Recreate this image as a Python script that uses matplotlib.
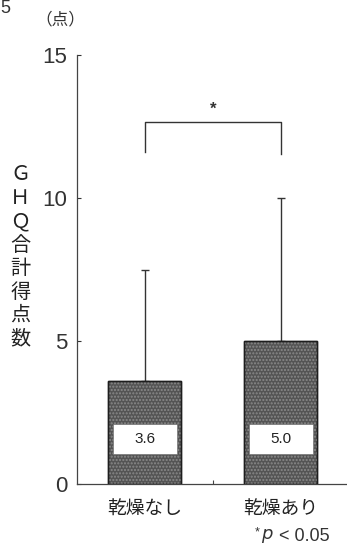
import matplotlib
matplotlib.use("Agg")
import matplotlib.pyplot as plt

plt.rcParams['font.family'] = ['Liberation Sans', 'Noto Sans CJK JP', 'DejaVu Sans']

categories = ['乾燥なし', '乾燥あり']
means = [3.6, 5.0]
sd_upper = [3.9, 5.0]
mean_labels = ['3.6', '5.0']
yticks = [0, 5, 10, 15]
ylabel = 'ＧＨＱ合計得点数'
unit = '（点）'

fig = plt.figure(figsize=(3.47, 5.5), dpi=100)
ax = fig.add_axes([0.222, 0.12, 0.775, 0.78])

x = list(range(len(categories)))
bar_w = 0.54

# bars: solid fill, then a speckle overlay
ax.bar(x, means, width=bar_w, color='#545454', edgecolor='#1e1e1e', linewidth=1.0, zorder=2)
ax.bar(x, means, width=bar_w, color='none', edgecolor='#8a8a8a', hatch='.....', linewidth=0, zorder=2.5)
ax.bar(x, means, width=bar_w, color='none', edgecolor='#1e1e1e', linewidth=1.0, zorder=2.6)

# upper-only error bars
ax.errorbar(x, means, yerr=[[0] * len(x), sd_upper], fmt='none', ecolor='#333333',
            elinewidth=1.0, capsize=3, capthick=1.0, zorder=1.5)

# value boxes inside bars
for xi, lab in zip(x, mean_labels):
    ax.add_patch(plt.Rectangle((xi - 0.235, 1.05), 0.47, 1.05, facecolor='white',
                               edgecolor='#666666', linewidth=0.4, zorder=3))
    ax.text(xi, 1.58, lab, ha='center', va='center', fontsize=11, color='#222222', zorder=4)

# significance bracket
ax.plot([0, 0, 1, 1], [11.6, 12.65, 12.65, 11.55], color='#333333', lw=1.0,
        clip_on=False, zorder=3)
ax.text(0.5, 13.1, '*', ha='center', va='center', fontsize=12, fontweight='bold',
        color='#333333')

ax.set_xlim(-0.498, 1.48)
ax.set_ylim(0, 15)
ax.set_yticks(yticks)
ax.set_yticklabels([str(t) for t in yticks], fontsize=16, color='#333333')
ax.tick_params(axis='y', direction='in', length=3, width=0.8, pad=7, colors='#333333')
ax.set_xticks(x)
ax.set_xticklabels(categories, fontsize=13.5, color='#222222')
ax.tick_params(axis='x', length=0, pad=13)
ax.set_xticks([0.5], minor=True)
ax.tick_params(axis='x', which='minor', direction='in', length=3, width=0.8, colors='#444444')

for s in ['top', 'right']:
    ax.spines[s].set_visible(False)
for s in ['left', 'bottom']:
    ax.spines[s].set_color('#444444')
    ax.spines[s].set_linewidth(0.9)

fig.text(0.058, 0.533, '\n'.join(ylabel), ha='center', va='center', fontsize=14.5,
         linespacing=1.3, color='#222222')
fig.text(0.175, 0.965, unit, ha='center', va='center', fontsize=12, color='#333333')
fig.text(0.0, 1.0, '5', ha='left', va='top', fontsize=13, color='#333333')

fig.text(0.735, 0.032, '*', ha='left', va='center', fontsize=9, color='#333333')
fig.text(0.752, 0.025, r'$p$', ha='left', va='center', fontsize=13, color='#333333')
fig.text(0.803, 0.025, '< 0.05', ha='left', va='center', fontsize=13, color='#333333')

fig.savefig('out.png', dpi=100, facecolor='white')
